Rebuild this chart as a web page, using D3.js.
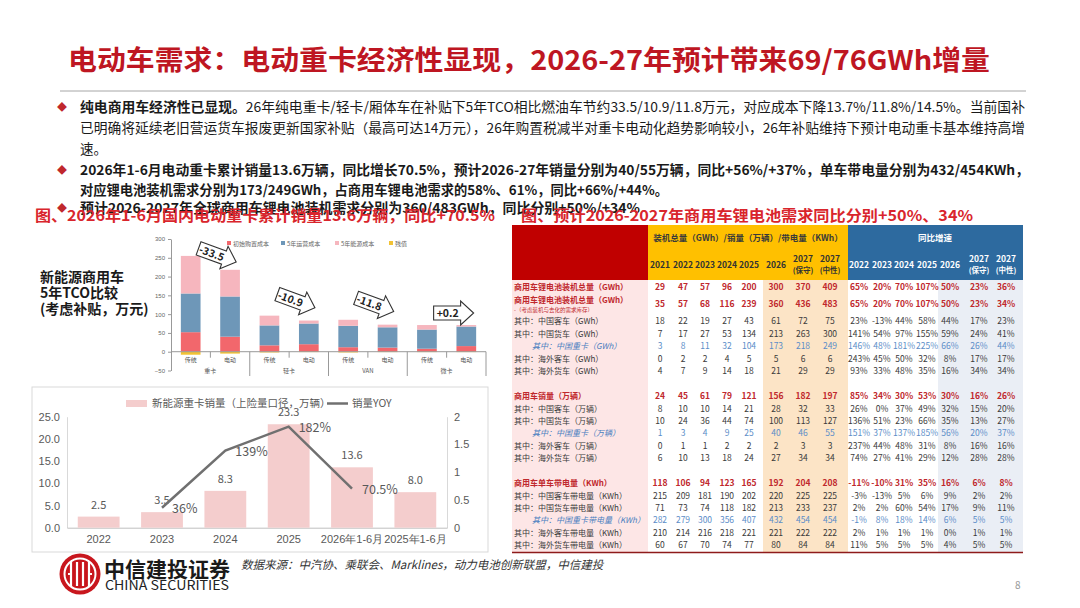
<!DOCTYPE html>
<html>
<head>
<meta charset="utf-8">
<script src="https://cdn.jsdelivr.net/npm/d3@7"></script>
<style>
  body { margin: 0; background: #fff; }
  svg { display: block; font-family: "Noto Sans CJK SC", "Noto Sans", sans-serif; }
</style>
</head>
<body>
<div id="chart"></div>
<script>
// ---- data: TCO comparison (万元) ----
const tcoGroups = ['重卡', '轻卡', 'VAN', '微卡'];
const tcoTypes = ['传统', '电动', '传统', '电动', '传统', '电动', '传统', '电动'];
const tcoPurchase = [52, 40, 17, 20, 12, 11, 8, 15];
const tcoOperation = [103, 107, 53, 55, 57, 54, 51, 52];
const tcoEnergy = [100, 71, 26, 8, 16, 7, 12, 4];
const tcoResidual = [-8, -5, -2, -1, -2, -1, -1, -1];
const tcoKeys = ['初始购置成本', '5年运营成本', '5年能源成本', '残值'];
const tcoDiff = ['-33.5', '-10.9', '-11.8', '+0.2'];
const tcoDiffY = [257, 135, 125, 103];
const tcoDiffRot = [20, 20, 20, 0];

// ---- data: 新能源重卡销量 ----
const salesCats = ['2022', '2023', '2024', '2025', '2026年1-6月', '2025年1-6月'];
const salesVals = [2.5, 3.5, 8.3, 23.3, 13.6, 8.0];
const yoyVals = [null, 0.36, 1.39, 1.82, 0.705, null];
const yoyText = ['', '36%', '139%', '182%', '70.5%', ''];

// ---- data: battery demand table ----
const valueCols = ['2021', '2022', '2023', '2024', '2025', '2026', '2027保守', '2027中性'];
const growthCols = ['g2022', 'g2023', 'g2024', 'g2025', 'g2026', 'g2027保守', 'g2027中性'];
const valueHead = [['2021'], ['2022'], ['2023'], ['2024'], ['2025'], ['2026'], ['2027', '(保守)'], ['2027', '(中性)']];
const growthHead = [['2022'], ['2023'], ['2024'], ['2025'], ['2026'], ['2027', '(保守)'], ['2027', '(中性)']];

const gwhLabels = ['商用车锂电池装机总量（GWh）', '商用车锂电池装机总量（GWh）', '其中：中国客车（GWh）', '其中：中国货车（GWh）',
  '其中：中国重卡（GWh）', '其中：海外客车（GWh）', '其中：海外货车（GWh）'];
const gwhKinds = ['total', 'total', 'normal', 'normal', 'heavy', 'normal', 'normal'];
const gwhValues = [
  [29, 47, 57, 96, 200, 300, 370, 409],
  [35, 57, 68, 116, 239, 360, 436, 483],
  [18, 22, 19, 27, 43, 61, 72, 75],
  [7, 17, 27, 53, 134, 213, 263, 300],
  [3, 8, 11, 32, 104, 173, 218, 249],
  [0, 2, 2, 4, 5, 5, 6, 6],
  [4, 7, 9, 14, 18, 21, 29, 29]
];
const gwhGrowth = [
  ['65%', '20%', '70%', '107%', '50%', '23%', '36%'],
  ['65%', '20%', '70%', '107%', '50%', '23%', '34%'],
  ['23%', '-13%', '44%', '58%', '44%', '17%', '23%'],
  ['141%', '54%', '97%', '155%', '59%', '24%', '41%'],
  ['146%', '48%', '181%', '225%', '66%', '26%', '44%'],
  ['243%', '45%', '50%', '32%', '8%', '17%', '17%'],
  ['93%', '33%', '48%', '35%', '16%', '34%', '34%']
];

const unitLabels = ['商用车销量（万辆）', '其中：中国客车（万辆）', '其中：中国货车（万辆）', '其中：中国重卡（万辆）',
  '其中：海外客车（万辆）', '其中：海外货车（万辆）'];
const unitKinds = ['total', 'normal', 'normal', 'heavy', 'normal', 'normal'];
const unitValues = [
  [24, 45, 61, 79, 121, 156, 182, 197],
  [8, 10, 10, 14, 21, 28, 32, 33],
  [10, 24, 36, 44, 74, 100, 113, 127],
  [1, 3, 4, 9, 25, 40, 46, 55],
  [0, 1, 1, 2, 2, 2, 3, 3],
  [6, 10, 13, 18, 24, 27, 34, 34]
];
const unitGrowth = [
  ['85%', '34%', '30%', '53%', '30%', '16%', '26%'],
  ['26%', '0%', '37%', '49%', '32%', '15%', '20%'],
  ['136%', '51%', '23%', '66%', '35%', '13%', '27%'],
  ['151%', '37%', '137%', '185%', '56%', '20%', '37%'],
  ['237%', '44%', '48%', '31%', '8%', '16%', '16%'],
  ['74%', '27%', '41%', '29%', '12%', '28%', '28%']
];

const kwhLabels = ['商用车单车带电量（KWh）', '其中：中国客车带电量（KWh）', '其中：中国货车带电量（KWh）', '其中：中国重卡带电量（KWh）',
  '其中：海外客车带电量（KWh）', '其中：海外货车带电量（KWh）'];
const kwhKinds = ['total', 'normal', 'normal', 'heavy', 'normal', 'normal'];
const kwhValues = [
  [118, 106, 94, 123, 165, 192, 204, 208],
  [215, 209, 181, 190, 202, 220, 225, 225],
  [71, 73, 74, 118, 182, 213, 233, 237],
  [282, 279, 300, 356, 407, 432, 454, 454],
  [210, 214, 216, 218, 221, 221, 222, 222],
  [60, 67, 70, 74, 77, 80, 84, 84]
];
const kwhGrowth = [
  ['-11%', '-10%', '31%', '35%', '16%', '6%', '8%'],
  ['-3%', '-13%', '5%', '6%', '9%', '2%', '2%'],
  ['2%', '2%', '60%', '54%', '17%', '9%', '11%'],
  ['-1%', '8%', '18%', '14%', '6%', '5%', '5%'],
  ['2%', '1%', '1%', '1%', '0%', '1%', '1%'],
  ['11%', '5%', '5%', '5%', '4%', '5%', '5%']
];

const RED = '#BE1622';

const svg = d3.select('#chart').append('svg')
  .attr('width', 1080)
  .attr('height', 608);

svg.append('rect').attr('width', 1080).attr('height', 608).attr('fill', '#fff');

// ---------- title + bullets ----------
svg.append('text')
  .text('电动车需求：电动重卡经济性显现，2026-27年预计带来69/76GWh增量')
  .attr('x', 68).attr('y', 70)
  .attr('font-size', '27px').attr('font-weight', 'bold')
  .attr('fill', RED)
  .attr('textLength', 922).attr('lengthAdjust', 'spacingAndGlyphs');

svg.append('line')
  .attr('x1', 60).attr('x2', 1026).attr('y1', 91).attr('y2', 91)
  .attr('stroke', '#a6a6a6').attr('stroke-width', 1);

function textLine(x, y, parts, len, size) {
  let t = svg.append('text').attr('x', x).attr('y', y)
    .attr('font-size', (size || 13.5) + 'px').attr('fill', '#1a1a1a');
  parts.forEach(p => {
    t.append('tspan').text(p[0]).attr('font-weight', p[1] ? 'bold' : 'normal');
  });
  if (len) t.attr('textLength', len).attr('lengthAdjust', 'spacingAndGlyphs');
  return t;
}

[112, 175, 213].forEach(y => {
  svg.append('text').text('◆').attr('x', 57).attr('y', y - 1)
    .attr('font-size', '10px').attr('fill', '#C0282D');
});

textLine(80, 112, [['纯电商用车经济性已显现。', true], ['26年纯电重卡/轻卡/厢体车在补贴下5年TCO相比燃油车节约33.5/10.9/11.8万元，对应成本下降13.7%/11.8%/14.5%。当前国补', false]], 945);
textLine(80, 133, [['已明确将延续老旧营运货车报废更新国家补贴（最高可达14万元），26年购置税减半对重卡电动化趋势影响较小，26年补贴维持下预计电动重卡基本维持高增', false]], 945);
textLine(80, 154, [['速。', false]]);
textLine(80, 175, [['2026年1-6月电动重卡累计销量13.6万辆，同比增长70.5%，预计2026-27年销量分别为40/55万辆，同比+56%/+37%，单车带电量分别为432/454KWh，', true]], 949);
textLine(80, 195, [['对应锂电池装机需求分别为173/249GWh，占商用车锂电池需求的58%、61%，同比+66%/+44%。', true]], 588);
textLine(80, 213, [['预计2026-2027年全球商用车锂电池装机需求分别为360/483GWh，同比分别+50%/+34%', true]], 560);

svg.append('text').text('图、2026年1-6月国内电动重卡累计销量13.6万辆，同比+70.5%')
  .attr('x', 35).attr('y', 221).attr('font-size', '15px').attr('font-weight', 'bold')
  .attr('fill', '#D9252C').attr('textLength', 460).attr('lengthAdjust', 'spacingAndGlyphs');
svg.append('text').text('图、预计2026-2027年商用车锂电池需求同比分别+50%、34%')
  .attr('x', 521).attr('y', 221).attr('font-size', '15px').attr('font-weight', 'bold')
  .attr('fill', '#D9252C').attr('textLength', 452).attr('lengthAdjust', 'spacingAndGlyphs');

// ---------- TCO stacked bars ----------
['新能源商用车', '5年TCO比较', '(考虑补贴，万元)'].forEach((s, i) => {
  svg.append('text').text(s).attr('x', 40).attr('y', 282 + i * 16)
    .attr('font-size', '14px').attr('font-weight', 'bold').attr('fill', '#1a1a1a');
});

const xT = d3.scaleBand().domain(d3.range(8)).range([171, 486]).paddingInner(0.5).paddingOuter(0.25);
const yT = d3.scaleLinear().domain([-50, 300]).range([370.5, 239]);
const tcoColors = ['#F2676C', '#6E97B8', '#F6B6BE', '#F2C233'];

const tcoRows = d3.range(8).map(i => ({ i: i, a: tcoPurchase[i], b: tcoOperation[i], c: tcoEnergy[i] }));
const tcoStack = d3.stack().keys(['a', 'b', 'c'])(tcoRows);

const tcoG = svg.append('g');
tcoG.append('g')
  .attr('transform', 'translate(171,0)')
  .call(d3.axisLeft(yT).tickValues([-50, 0, 50, 100, 150, 200, 250, 300]).tickSize(3).tickSizeOuter(0))
  .call(g => g.selectAll('text').attr('font-size', '6px').attr('fill', '#666'))
  .call(g => g.selectAll('line,path').attr('stroke', '#999'));

tcoG.selectAll('g.layer')
  .data(tcoStack)
  .join('g')
  .attr('class', 'layer')
  .attr('fill', (d, i) => tcoColors[i])
  .selectAll('rect')
  .data(d => d)
  .join('rect')
  .attr('x', d => xT(d.data.i))
  .attr('y', d => yT(d[1]))
  .attr('width', xT.bandwidth())
  .attr('height', d => yT(d[0]) - yT(d[1]));

tcoG.selectAll('rect.res')
  .data(tcoResidual)
  .join('rect')
  .attr('class', 'res')
  .attr('x', (d, i) => xT(i))
  .attr('y', yT(0))
  .attr('width', xT.bandwidth())
  .attr('height', d => yT(d) - yT(0))
  .attr('fill', tcoColors[3]);

tcoG.append('line')
  .attr('x1', 171).attr('x2', 486).attr('y1', yT(0)).attr('y2', yT(0))
  .attr('stroke', '#999');

const stepT = xT.step();
d3.range(8).forEach(k => {
  const xx = 171 + stepT * (k + 1);
  tcoG.append('line')
    .attr('x1', xx).attr('x2', xx)
    .attr('y1', yT(0)).attr('y2', k % 2 ? 376 : yT(0) + 6)
    .attr('stroke', '#999');
});

tcoG.selectAll('text.cat')
  .data(tcoTypes)
  .join('text')
  .attr('class', 'cat')
  .text(d => d)
  .attr('x', (d, i) => xT(i) + xT.bandwidth() / 2)
  .attr('y', 362)
  .attr('text-anchor', 'middle')
  .attr('font-size', '6px').attr('fill', '#555');

tcoG.selectAll('text.grp')
  .data(tcoGroups)
  .join('text')
  .attr('class', 'grp')
  .text(d => d)
  .attr('x', (d, i) => 171 + stepT * (2 * i + 1))
  .attr('y', 373)
  .attr('text-anchor', 'middle')
  .attr('font-size', '6px').attr('fill', '#555');

const legT = tcoG.selectAll('g.legT')
  .data(tcoKeys)
  .join('g')
  .attr('class', 'legT')
  .attr('transform', (d, i) => `translate(${233 + i * 54},244)`);
legT.append('rect').attr('x', -6).attr('y', -3).attr('width', 4).attr('height', 4)
  .attr('fill', (d, i) => tcoColors[i]);
legT.append('text').text(d => d).attr('y', 1.5).attr('font-size', '6px').attr('fill', '#666');

const arrowPath = 'M-20,-7 L7,-7 L7,-12 L20,0 L7,12 L7,7 L-20,7 Z';
const arr = tcoG.selectAll('g.arr')
  .data(tcoDiff)
  .join('g')
  .attr('class', 'arr')
  .attr('transform', (d, i) => `translate(${171 + stepT * (2 * i + 1) + 7},${yT(tcoDiffY[i])}) rotate(${tcoDiffRot[i]})`);
arr.append('path').attr('d', arrowPath)
  .attr('fill', '#fff').attr('stroke', '#333').attr('stroke-width', 1.1);
arr.append('text').text(d => d)
  .attr('x', -6).attr('y', 4).attr('text-anchor', 'middle')
  .attr('font-size', '10.5px').attr('font-weight', 'bold').attr('fill', '#222');

// ---------- 新能源重卡销量 ----------
const salesG = svg.append('g');
salesG.append('rect')
  .attr('x', 32).attr('y', 387).attr('width', 456).attr('height', 165)
  .attr('fill', '#fff').attr('stroke', '#d9d9d9');

const xB = d3.scaleBand().domain(salesCats).range([67, 447]).paddingInner(0.34).paddingOuter(0.17);
const yB = d3.scaleLinear().domain([0, 25]).range([527.7, 416.7]);
const yR = d3.scaleLinear().domain([0, 2]).range([527.7, 416.7]);

salesG.append('g')
  .attr('transform', 'translate(67,0)')
  .call(d3.axisLeft(yB).ticks(5).tickFormat(d3.format('.1f')).tickSize(0).tickPadding(7))
  .call(g => g.select('.domain').attr('stroke', '#d9d9d9'))
  .call(g => g.selectAll('text').attr('font-size', '11px').attr('fill', '#595959'));

salesG.append('g')
  .attr('transform', 'translate(447,0)')
  .call(d3.axisRight(yR).tickValues([0, 0.5, 1, 1.5, 2]).tickFormat(d => d).tickSize(0).tickPadding(7))
  .call(g => g.select('.domain').attr('stroke', '#d9d9d9'))
  .call(g => g.selectAll('text').attr('font-size', '11px').attr('fill', '#595959'));

salesG.append('g')
  .attr('transform', 'translate(0,527.7)')
  .call(d3.axisBottom(xB).tickSize(0).tickPadding(8))
  .call(g => g.select('.domain').attr('stroke', '#bfbfbf'))
  .call(g => g.selectAll('text').attr('font-size', '11px').attr('fill', '#595959'));

salesG.selectAll('rect.bar')
  .data(salesVals)
  .join('rect')
  .attr('class', 'bar')
  .attr('x', (d, i) => xB(salesCats[i]))
  .attr('y', d => yB(d))
  .attr('width', xB.bandwidth())
  .attr('height', d => yB(0) - yB(d))
  .attr('fill', '#F4CDCD');

salesG.selectAll('text.val')
  .data(salesVals)
  .join('text')
  .attr('class', 'val')
  .text(d => d3.format('.1f')(d))
  .attr('x', (d, i) => xB(salesCats[i]) + xB.bandwidth() / 2)
  .attr('y', d => yB(d) - 8)
  .attr('text-anchor', 'middle')
  .attr('font-size', '11px').attr('fill', '#595959');

const yoyLine = d3.line()
  .defined(d => d != null)
  .x((d, i) => xB(salesCats[i]) + xB.bandwidth() / 2)
  .y(d => yR(d));

salesG.append('path')
  .datum(yoyVals)
  .attr('d', yoyLine)
  .attr('fill', 'none')
  .attr('stroke', '#707070')
  .attr('stroke-width', 2.5);

salesG.selectAll('text.yoy')
  .data(yoyVals)
  .join('text')
  .attr('class', 'yoy')
  .text((d, i) => yoyText[i])
  .attr('x', (d, i) => xB(salesCats[i]) + xB.bandwidth() / 2 + 10)
  .attr('y', d => d == null ? 0 : yR(d) + 5)
  .attr('font-size', '12.5px').attr('fill', '#595959');

salesG.append('rect').attr('x', 126).attr('y', 400).attr('width', 21).attr('height', 7).attr('fill', '#F4CDCD');
salesG.append('text').text('新能源重卡销量（上险量口径，万辆）').attr('x', 152).attr('y', 407)
  .attr('font-size', '10.5px').attr('fill', '#595959');
salesG.append('line').attr('x1', 327).attr('x2', 348).attr('y1', 403.5).attr('y2', 403.5)
  .attr('stroke', '#707070').attr('stroke-width', 2.5);
salesG.append('text').text('销量YOY').attr('x', 352).attr('y', 407)
  .attr('font-size', '10.5px').attr('fill', '#595959');

// ---------- table ----------
const colKeys = valueCols.concat(growthCols);
const colX = d3.scaleOrdinal().domain(colKeys)
  .range([660, 683, 705, 727, 749, 776, 803, 830, 859, 882, 904, 927, 950, 979, 1006]);

const tblRows = [];
function addSection(labels, kinds, values, growth, ys) {
  labels.forEach((l, i) => tblRows.push({ label: l, kind: kinds[i], values: values[i], growth: growth[i], y: ys[i] }));
}
addSection(gwhLabels, gwhKinds, gwhValues, gwhGrowth, [287, 304, 321, 333.5, 346, 358.5, 371]);
addSection(unitLabels, unitKinds, unitValues, unitGrowth, [396, 408.5, 421, 433, 445.5, 458]);
addSection(kwhLabels, kwhKinds, kwhValues, kwhGrowth, [483, 495.5, 508, 520, 532.5, 545]);

const tbl = svg.append('g');
tbl.append('rect').attr('x', 512).attr('y', 225).attr('width', 136).attr('height', 55).attr('fill', '#C00000');
tbl.append('rect').attr('x', 648).attr('y', 225).attr('width', 200).attr('height', 55).attr('fill', '#FFC000');
tbl.append('rect').attr('x', 848).attr('y', 225).attr('width', 175).attr('height', 55).attr('fill', '#2D6A9F');
tbl.append('rect').attr('x', 512).attr('y', 280).attr('width', 136).attr('height', 272).attr('fill', '#FDE6E6');
tbl.append('rect').attr('x', 763).attr('y', 280).attr('width', 85).attr('height', 272).attr('fill', '#FCE4C6');
tbl.append('rect').attr('x', 938).attr('y', 280).attr('width', 85).attr('height', 272).attr('fill', '#EAEEF5');
tbl.append('line').attr('x1', 512).attr('x2', 1023).attr('y1', 552.5).attr('y2', 552.5)
  .attr('stroke', '#8E1B1B').attr('stroke-width', 1.5);

tbl.append('text').text('装机总量（GWh）/销量（万辆）/带电量（KWh）')
  .attr('x', 748).attr('y', 241).attr('text-anchor', 'middle')
  .attr('font-size', '8.5px').attr('font-weight', 'bold').attr('fill', '#3a3a3a');
tbl.append('text').text('同比增速')
  .attr('x', 935).attr('y', 241).attr('text-anchor', 'middle')
  .attr('font-size', '8.5px').attr('font-weight', 'bold').attr('fill', '#fff');

function headCells(keys, heads, color) {
  tbl.selectAll(null)
    .data(heads)
    .join('text')
    .attr('x', (d, i) => colX(keys[i]))
    .attr('y', d => d.length > 1 ? 262 : 268)
    .attr('text-anchor', 'middle')
    .attr('font-weight', 'bold').attr('fill', color)
    .each(function (d) {
      d3.select(this).selectAll('tspan')
        .data(d)
        .join('tspan')
        .attr('x', colX(keys[heads.indexOf(d)]))
        .attr('dy', (s, j) => j ? 11 : 0)
        .attr('font-size', (s, j) => j ? '7.5px' : '8.5px')
        .text(s => s);
    });
}
headCells(valueCols, valueHead, '#333');
headCells(growthCols, growthHead, '#fff');

const kindColor = { total: '#C0282D', normal: '#3a3a3a', heavy: '#5B8DC8' };

const rowG = tbl.selectAll('g.row')
  .data(tblRows)
  .join('g')
  .attr('class', 'row')
  .attr('transform', d => `translate(0,${d.y + 3})`);

rowG.append('text')
  .text(d => d.label)
  .attr('x', d => d.kind === 'heavy' ? 532 : 514)
  .attr('y', (d, i) => i === 1 ? -4 : 0)
  .attr('font-size', '8px')
  .attr('font-style', d => d.kind === 'heavy' ? 'italic' : 'normal')
  .attr('font-weight', d => d.kind === 'total' ? 'bold' : 'normal')
  .attr('fill', d => d.kind === 'heavy' ? '#4A7EC0' : kindColor[d.kind]);

rowG.filter((d, i) => i === 1)
  .append('text')
  .text('-（考虑装机与去化的需求库存）')
  .attr('x', 514).attr('y', 5)
  .attr('font-size', '5.5px').attr('fill', '#C0282D');

rowG.selectAll('text.v')
  .data(d => d.values.map((v, j) => ({ key: valueCols[j], text: v, kind: d.kind })))
  .join('text')
  .attr('class', 'v')
  .text(d => d.text)
  .attr('x', d => colX(d.key))
  .attr('text-anchor', 'middle')
  .attr('font-size', '8.5px')
  .attr('font-weight', d => d.kind === 'total' ? 'bold' : 'normal')
  .attr('fill', d => kindColor[d.kind]);

rowG.selectAll('text.g')
  .data(d => d.growth.map((v, j) => ({ key: growthCols[j], text: v, kind: d.kind })))
  .join('text')
  .attr('class', 'g')
  .text(d => d.text)
  .attr('x', d => colX(d.key))
  .attr('text-anchor', 'middle')
  .attr('font-size', '8.5px')
  .attr('font-weight', d => d.kind === 'total' ? 'bold' : 'normal')
  .attr('fill', d => kindColor[d.kind]);

// ---------- footer ----------
const logo = svg.append('g').attr('transform', 'translate(80,574)');
logo.append('circle').attr('r', 20.5).attr('fill', '#C8161D');
logo.append('circle').attr('r', 15.5).attr('fill', 'none').attr('stroke', '#fff').attr('stroke-width', 2);
[-9, -3, 3, 9].forEach(x => {
  logo.append('line').attr('x1', x).attr('x2', x).attr('y1', -12).attr('y2', 12)
    .attr('stroke', '#fff').attr('stroke-width', 2.2);
});
logo.append('line').attr('x1', -12).attr('x2', -9).attr('y1', 0).attr('y2', 0).attr('stroke', '#fff').attr('stroke-width', 2);
logo.append('line').attr('x1', 9).attr('x2', 12).attr('y1', 0).attr('y2', 0).attr('stroke', '#fff').attr('stroke-width', 2);

svg.append('text').text('中信建投证券').attr('x', 104).attr('y', 577)
  .attr('font-size', '21px').attr('font-weight', 'bold').attr('fill', '#1a1a1a')
  .attr('textLength', 126).attr('lengthAdjust', 'spacingAndGlyphs');
svg.append('text').text('CHINA SECURITIES').attr('x', 105).attr('y', 590)
  .attr('font-size', '13px').attr('fill', '#222')
  .attr('textLength', 124).attr('lengthAdjust', 'spacingAndGlyphs');
svg.append('text').text('数据来源：中汽协、乘联会、Marklines，动力电池创新联盟，中信建投')
  .attr('x', 241).attr('y', 569)
  .attr('font-size', '11.5px').attr('font-style', 'italic').attr('fill', '#333');
svg.append('text').text('8').attr('x', 1015).attr('y', 589)
  .attr('font-size', '10px').attr('fill', '#999');
</script>
</body>
</html>
